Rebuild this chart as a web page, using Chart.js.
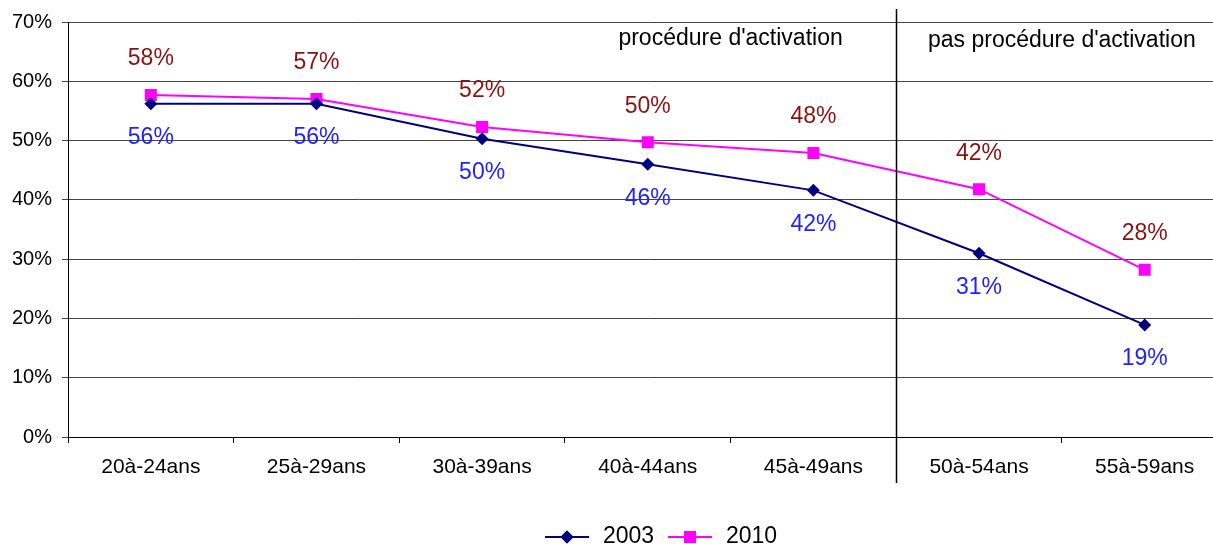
<!DOCTYPE html>
<html>
<head>
<meta charset="utf-8">
<script src="https://cdn.jsdelivr.net/npm/chart.js@4"></script>
<style>
  html, body { margin: 0; padding: 0; background: #fff; overflow: hidden; }
  #wrap { width: 1236px; height: 544px; }
</style>
</head>
<body>
<div id="wrap"><canvas id="lineChart" width="1236" height="544"></canvas></div>
<script>
// tranches d'age
const categories = ['20à-24ans', '25à-29ans', '30à-39ans', '40à-44ans', '45à-49ans', '50à-54ans', '55à-59ans'];
const values2003 = [56.2, 56.2, 50.3, 46.0, 41.6, 31.0, 18.9];
const values2010 = [57.7, 57.0, 52.3, 49.7, 47.9, 41.8, 28.2];
const yTicks = [0, 10, 20, 30, 40, 50, 60, 70];
const zoneLabels = ['procédure d\'activation', 'pas procédure d\'activation'];

const FONT = 'Arial, "Liberation Sans", sans-serif';

// etiquettes de valeurs, au dessus pour 2010, en dessous pour 2003
const valueLabels = {
  id: 'valueLabels',
  afterDatasetsDraw(chart) {
    const { ctx } = chart;
    ctx.save();
    ctx.font = '23px ' + FONT;
    ctx.textAlign = 'center';
    ctx.textBaseline = 'middle';
    chart.data.datasets.forEach((ds, i) => {
      const meta = chart.getDatasetMeta(i);
      meta.data.forEach((pt, j) => {
        const above = ds.label === '2010';
        ctx.fillStyle = above ? '#8b1111' : '#2222ff';
        ctx.fillText(Math.round(ds.data[j]) + '%', pt.x, above ? pt.y - 36 : pt.y + 34);
      });
    });
    ctx.restore();
  },
};

// ligne de separation + textes des deux zones
const zones = {
  id: 'zones',
  afterDraw(chart) {
    const { ctx } = chart;
    const x = chart.scales.x;
    const sep = (x.getPixelForValue(4) + x.getPixelForValue(5)) / 2;
    ctx.save();
    ctx.strokeStyle = '#000';
    ctx.lineWidth = 1.5;
    ctx.beginPath();
    ctx.moveTo(Math.round(sep) + 0.5, 9);
    ctx.lineTo(Math.round(sep) + 0.5, 483);
    ctx.stroke();

    ctx.font = '23px ' + FONT;
    ctx.fillStyle = '#000';
    ctx.textAlign = 'center';
    ctx.textBaseline = 'alphabetic';
    const c1 = (x.getPixelForValue(3) + x.getPixelForValue(4)) / 2;
    const c2 = (x.getPixelForValue(5) + x.getPixelForValue(6)) / 2;
    ctx.fillText(zoneLabels[0], c1, 45);
    ctx.fillText(zoneLabels[1], c2, 47);
    ctx.restore();
  },
};

// legende en bas, dessinee a la main pour avoir le trait + marqueur
const bottomLegend = {
  id: 'bottomLegend',
  afterDraw(chart) {
    const { ctx } = chart;
    ctx.save();
    ctx.font = '23px ' + FONT;
    ctx.textBaseline = 'alphabetic';
    ctx.textAlign = 'left';
    const lineY = 537;
    let x = 545;
    chart.data.datasets.forEach((ds) => {
      ctx.strokeStyle = ds.borderColor;
      ctx.lineWidth = 2;
      ctx.beginPath();
      ctx.moveTo(x, lineY);
      ctx.lineTo(x + 44, lineY);
      ctx.stroke();
      Chart.helpers.drawPoint(ctx, {
        pointStyle: ds.pointStyle,
        radius: ds.pointRadius,
        borderWidth: 0,
        rotation: 0,
      }, x + 22, lineY);
      ctx.fillStyle = ds.pointBackgroundColor;
      ctx.fill();
      ctx.fillStyle = '#000';
      ctx.fillText(ds.label, x + 58, 543);
      x += 123;
    });
    ctx.restore();
  },
};

new Chart(document.getElementById('lineChart').getContext('2d'), {
  type: 'line',
  data: {
    labels: categories,
    datasets: [
      {
        label: '2003',
        data: values2003,
        borderColor: '#000080',
        backgroundColor: '#000080',
        pointBackgroundColor: '#000080',
        pointBorderColor: '#000080',
        pointBorderWidth: 0,
        pointStyle: 'rectRot',
        pointRadius: 6.5,
        borderWidth: 2,
        tension: 0,
      },
      {
        label: '2010',
        data: values2010,
        borderColor: '#ff00ff',
        backgroundColor: '#ff00ff',
        pointBackgroundColor: '#ff00ff',
        pointBorderColor: '#ff00ff',
        pointBorderWidth: 0,
        pointStyle: 'rect',
        pointRadius: 8.5,
        borderWidth: 2,
        tension: 0,
      },
    ],
  },
  options: {
    responsive: false,
    animation: false,
    devicePixelRatio: 1,
    layout: { padding: { top: 22, left: 0, right: 3, bottom: 0 } },
    plugins: {
      legend: { display: false },
      tooltip: { enabled: false },
    },
    scales: {
      x: {
        offset: true,
        grid: {
          offset: true,
          drawOnChartArea: false,
          tickLength: 6,
          color: '#000',
        },
        border: { color: '#000', width: 1 },
        ticks: {
          color: '#000',
          font: { family: FONT, size: 21 },
          padding: 12,
          maxRotation: 0,
          autoSkip: false,
        },
        afterFit(scale) { scale.height = 107; },
      },
      y: {
        min: yTicks[0],
        max: yTicks[yTicks.length - 1],
        afterBuildTicks(scale) { scale.ticks = yTicks.map((v) => ({ value: v })); },
        grid: { color: '#444', tickLength: 6, lineWidth: 1 },
        border: { color: '#000', width: 1 },
        ticks: {
          color: '#000',
          font: { family: FONT, size: 20 },
          padding: 10,
          callback: (v) => v + '%',
        },
        afterFit(scale) { scale.width = 68; },
      },
    },
  },
  plugins: [valueLabels, zones, bottomLegend],
});
</script>
</body>
</html>
